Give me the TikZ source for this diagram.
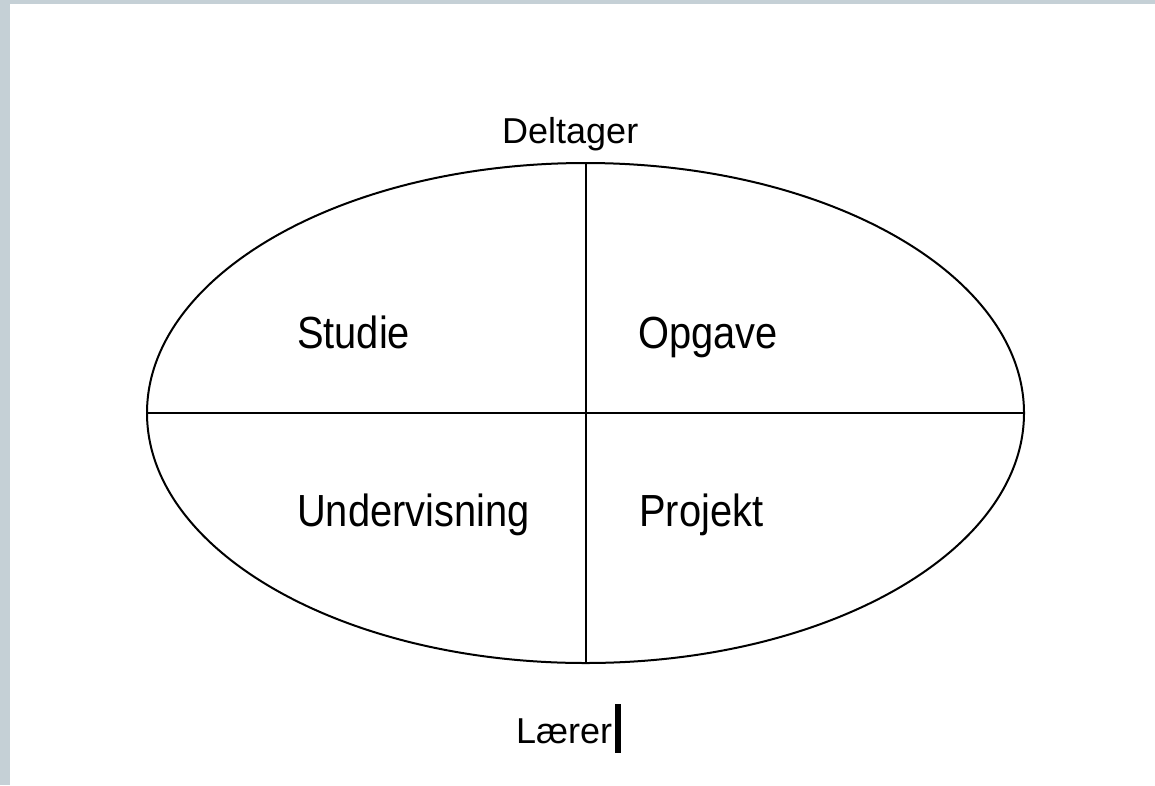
\documentclass[tikz,border=0pt]{standalone}
\usepackage{fontspec}
\setmainfont{Liberation Sans}
\usetikzlibrary{shapes.geometric}
\definecolor{framegray}{HTML}{C5D0D6}
\begin{document}
\begin{tikzpicture}[x=1pt,y=-1pt,
  quad/.style={anchor=base west,inner sep=0pt,font=\fontsize{45}{50}\selectfont},
  outer/.style={anchor=base west,inner sep=0pt,font=\fontsize{36}{40}\selectfont},
  divider/.style={line width=2.4pt,black}]
\useasboundingbox (0,0) rectangle (1155,785);
\fill[white] (0,0) rectangle (1155,785);
\fill[framegray] (0,0) rectangle (1155,4);
\fill[framegray] (0,0) rectangle (10,785);
\node[ellipse,draw,line width=2pt,minimum width=877pt,minimum height=500pt,inner sep=0pt] (e) at (585.5,413) {};
\coordinate (top) at (586,163);
\coordinate (bot) at (586,663);
\draw[divider] (top) -- (bot);
\draw[divider] (e.west) -- (e.east);
\node[quad] (studie) at (297,348) {\scalebox{0.885}[1]{Studie}};
\node[quad] (opgave) at (638,348) {\scalebox{0.885}[1]{Opgave}};
\node[quad] (underv) at (297,526) {\scalebox{0.885}[1]{Undervisning}};
\node[quad] (projekt) at (639,526) {\scalebox{0.885}[1]{Projekt}};
\node[outer] (deltager) at (502,143) {Deltager};
\node[outer] (laerer) at (516,743) {Lærer};
\fill[black] (615,704) rectangle (621,753);
\end{tikzpicture}
\end{document}
